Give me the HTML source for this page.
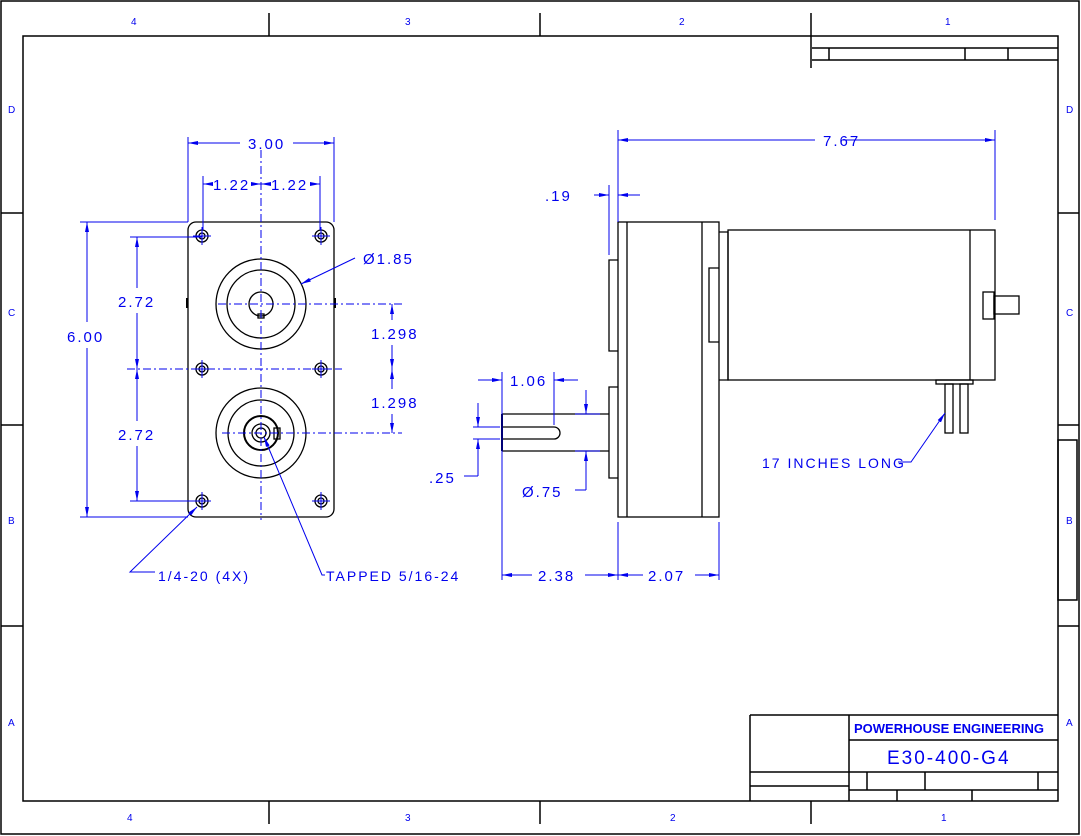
<!DOCTYPE html>
<html><head><meta charset="utf-8"><style>
html,body{margin:0;padding:0;background:#fff}
svg{display:block}
text{font-family:"Liberation Sans",sans-serif;fill:#0000ee}
.d{font-size:15px;letter-spacing:2px}
.z{font-size:10px}
</style></head><body>
<svg width="1081" height="836" viewBox="0 0 1081 836" xmlns="http://www.w3.org/2000/svg">
<defs>
<marker id="a" viewBox="0 0 10 6" refX="10" refY="3" markerWidth="10" markerHeight="6" orient="auto-start-reverse" markerUnits="userSpaceOnUse"><path d="M0,1 L10,3 L0,5 z" fill="#0000ee"/></marker>
<g id="h" fill="none" stroke="#000" stroke-width="1.3"><circle cx="0" cy="0" r="6"/><circle cx="0" cy="0" r="3"/></g>
</defs>
<g fill="none" stroke="#000" stroke-width="1.5">
<rect x="1" y="1" width="1078" height="833"/>
<rect x="23" y="36" width="1035" height="765"/>
<path d="M269,13V36 M540,13V36 M811,13V68 M269,801V824 M540,801V824 M811,801V824 M1,213H23 M1,425H23 M1,626H23 M1058,213H1079 M1058,425H1079 M1058,626H1079"/>
<path d="M812,48H1058 M812,60H1058 M829,48V60 M965,48V60 M1008,48V60"/>
<rect x="1058" y="440" width="19" height="160"/>
<path d="M750,715H1058 M750,715V801 M849,715V801 M849,740H1058 M750,772H1058 M750,786H849 M849,790H1058 M867,772V790 M925,772V790 M1038,772V790 M897,790V801 M972,790V801"/>
</g>
<g font-size="10">
<text class="z" x="131" y="25">4</text><text class="z" x="405" y="25">3</text><text class="z" x="679" y="25">2</text><text class="z" x="945" y="25">1</text>
<text class="z" x="127" y="821">4</text><text class="z" x="405" y="821">3</text><text class="z" x="670" y="821">2</text><text class="z" x="941" y="821">1</text>
<text class="z" x="8" y="113">D</text><text class="z" x="8" y="316">C</text><text class="z" x="8" y="524">B</text><text class="z" x="8" y="726">A</text>
<text class="z" x="1066" y="113">D</text><text class="z" x="1066" y="316">C</text><text class="z" x="1066" y="524">B</text><text class="z" x="1066" y="726">A</text>
</g>
<text x="854" y="733" style="font-size:13px;font-weight:bold">POWERHOUSE ENGINEERING</text>
<text x="887" y="764" style="font-size:19px;letter-spacing:2px">E30-400-G4</text>

<!-- front view -->
<g fill="none" stroke="#000" stroke-width="1.3">
<rect x="188" y="222" width="146" height="295" rx="8"/>
<path d="M187,298V308 M335,298V308" stroke-width="2"/>
<circle cx="261" cy="304" r="45"/><circle cx="261" cy="304" r="34"/><circle cx="261" cy="304" r="12"/>
<rect x="258" y="314" width="6" height="4"/>
<circle cx="261" cy="433" r="45"/><circle cx="261" cy="433" r="33"/><circle cx="261" cy="433" r="17" stroke-width="2"/><circle cx="261" cy="433" r="9"/><circle cx="261" cy="433" r="5"/>
<rect x="274" y="428" width="6" height="11"/>
</g>
<use href="#h" x="202" y="236"/><use href="#h" x="321" y="236"/>
<use href="#h" x="202" y="369"/><use href="#h" x="321" y="369"/>
<use href="#h" x="202" y="501"/><use href="#h" x="321" y="501"/>
<g stroke="#0000ee" stroke-width="1" fill="none" stroke-dasharray="8,3,2,3">
<path d="M261,150V520 M218,304H402 M127,369H342 M222,433H402"/>
<path d="M193,236H211 M202,227V245 M312,236H330 M321,227V245 M193,501H211 M202,492V510 M312,501H330 M321,492V510 M193,369H211 M202,360V378 M312,369H330 M321,360V378" stroke-dasharray="none"/>
</g>
<g stroke="#0000ee" stroke-width="1" fill="none">
<path d="M188,137V222 M334,137V222 M203,176V230 M320,176V230"/>
<path d="M188,143H240" marker-start="url(#a)"/><path d="M293,143H334" marker-end="url(#a)"/>
<path d="M203,184H212" marker-start="url(#a)"/><path d="M252,184H261" marker-end="url(#a)"/>
<path d="M261,184H270" marker-start="url(#a)"/><path d="M311,184H320" marker-end="url(#a)"/>
<path d="M80,222H188 M80,517H188 M130,237H202 M130,501H202"/>
<path d="M87,222V322" marker-start="url(#a)"/><path d="M87,348V517" marker-end="url(#a)"/>
<path d="M137,237V288" marker-start="url(#a)"/><path d="M137,313V369" marker-end="url(#a)"/>
<path d="M137,369V421" marker-start="url(#a)"/><path d="M137,446V501" marker-end="url(#a)"/>
<path d="M392,304V320" marker-start="url(#a)"/><path d="M392,345V369" marker-end="url(#a)"/>
<path d="M392,369V389" marker-start="url(#a)"/><path d="M392,414V433" marker-end="url(#a)"/>
<path d="M355,258L301,284" marker-end="url(#a)"/>
<path d="M155,572H130L197,507" marker-end="url(#a)"/>
<path d="M325,575H322L264,437" marker-end="url(#a)"/>
</g>
<text class="d" x="248" y="149">3.00</text>
<text class="d" x="213" y="190">1.22</text><text class="d" x="271" y="190">1.22</text>
<text class="d" x="67" y="342">6.00</text>
<text class="d" x="118" y="307">2.72</text><text class="d" x="118" y="440">2.72</text>
<text class="d" x="371" y="339">1.298</text><text class="d" x="371" y="408">1.298</text>
<text class="d" x="363" y="264">Ø1.85</text>
<text class="d" x="158" y="581" style="font-size:14px">1/4-20 (4X)</text>
<text class="d" x="326" y="581" style="font-size:14px">TAPPED 5/16-24</text>

<!-- side view -->
<g fill="none" stroke="#000" stroke-width="1.3">
<rect x="618" y="222" width="101" height="295"/>
<path d="M627,222V517 M702,222V517"/>
<path d="M618,260H609V351H618 M618,387H609V478H618"/>
<path d="M719,232H728V380H719 M719,268H709V342H719"/>
<rect x="728" y="230" width="267" height="150"/>
<path d="M970,230V380"/>
<rect x="983" y="292" width="11" height="27"/>
<rect x="994" y="296" width="25" height="18"/>
<rect x="936" y="380" width="37" height="4"/>
<rect x="945" y="384" width="8" height="49"/><rect x="960" y="384" width="8" height="49"/>
<path d="M502,414H609 M502,451H609 M502,427H554 M502,439H554 M554,427A6,6 0 0 1 554,439"/>
<path d="M502,414V451" stroke-width="2"/>
</g>
<g stroke="#0000ee" stroke-width="1" fill="none">
<path d="M618,130V222 M995,130V220 M609,185V255 M502,372V580 M554,372V425 M618,522V580 M719,522V580"/>
<path d="M618,140H815" marker-start="url(#a)"/><path d="M843,140H995" marker-end="url(#a)"/>
<path d="M594,195H609" marker-end="url(#a)"/><path d="M640,195H618" marker-end="url(#a)"/>
<path d="M478,380H502" marker-end="url(#a)"/><path d="M578,380H554" marker-end="url(#a)"/>
<path d="M473,427H500 M473,439H500 M575,414H600 M575,451H600"/>
<path d="M478,403V427" marker-end="url(#a)"/><path d="M478,476V439" marker-end="url(#a)"/>
<path d="M478,476H464"/>
<path d="M586,390V414" marker-end="url(#a)"/><path d="M586,490V451" marker-end="url(#a)"/>
<path d="M586,490H575"/>
<path d="M502,575H532" marker-start="url(#a)"/><path d="M585,575H618" marker-end="url(#a)"/>
<path d="M618,575H643" marker-start="url(#a)"/><path d="M695,575H719" marker-end="url(#a)"/>
<path d="M898,462H911L945,413" marker-end="url(#a)"/>
</g>
<text class="d" x="823" y="146">7.67</text>
<text class="d" x="545" y="201">.19</text>
<text class="d" x="510" y="386">1.06</text>
<text class="d" x="429" y="483">.25</text>
<text class="d" x="522" y="497">Ø.75</text>
<text class="d" x="538" y="581">2.38</text>
<text class="d" x="648" y="581">2.07</text>
<text class="d" x="762" y="468" style="font-size:14px">17 INCHES LONG</text>
</svg>
</body></html>
